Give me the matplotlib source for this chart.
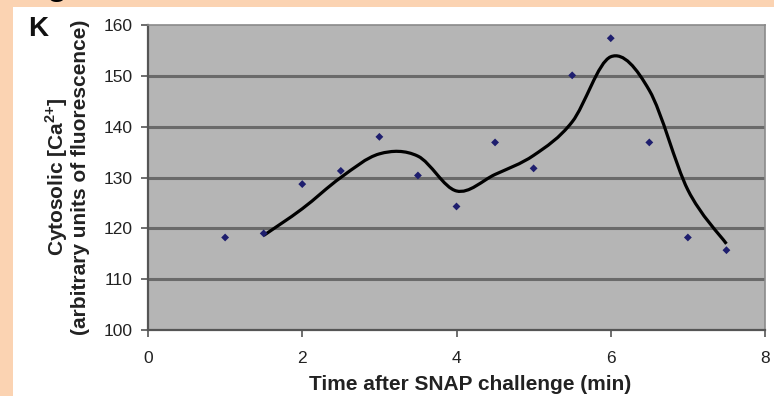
import numpy as np
import matplotlib
matplotlib.use("Agg")
import matplotlib.pyplot as plt
from matplotlib.path import Path
from matplotlib.patches import PathPatch, Rectangle

# Data
time_min = [1.0, 1.5, 2.0, 2.5, 3.0, 3.5, 4.0, 4.5, 5.0, 5.5, 6.0, 6.5, 7.0, 7.5]
cytosolic_ca = [118.2, 119.0, 128.7, 131.3, 138.0, 130.4, 124.3, 136.9, 131.8, 150.1, 157.4, 136.9, 118.2, 115.7]
x_ticks = [0, 2, 4, 6, 8]
y_ticks = [100, 110, 120, 130, 140, 150, 160]

plt.rcParams['font.family'] = ['Liberation Sans', 'DejaVu Sans']
plt.rcParams['mathtext.fontset'] = 'custom'
plt.rcParams['mathtext.rm'] = 'Liberation Sans'
plt.rcParams['mathtext.bf'] = 'Liberation Sans:bold'

fig = plt.figure(figsize=(7.74, 3.96), dpi=100)
fig.patch.set_facecolor('#FBD3B2')
# white panel
fig.patches.append(Rectangle((13/774, 0), 1, 1 - 7/396, transform=fig.transFigure,
                             facecolor='white', edgecolor='none', zorder=-5))
# cut-off glyph at the top
fig.text(57/774, 1 + 13/396, 'g', fontsize=24, fontweight='bold', ha='center', va='center', zorder=5)

ax = fig.add_axes([148/774, 1 - 330/396, (765-148)/774, (330-25)/396])
ax.set_zorder(2)
ax.set_facecolor('#B5B5B5')
ax.set_xlim(0, 8)
ax.set_ylim(100, 160)
ax.set_xticks(x_ticks)
ax.set_yticks(y_ticks)

for y in y_ticks[1:-1]:
    ax.axhline(y, color='#6A6A6A', lw=2.2, zorder=1)

# two-period moving average trendline, smoothed as Bezier curve
ma_x = time_min[1:]
ma_y = [(cytosolic_ca[i-1] + cytosolic_ca[i]) / 2 for i in range(1, len(cytosolic_ca))]
pts = list(zip(ma_x, ma_y))
verts = [pts[0]]
codes = [Path.MOVETO]
n = len(pts)
for i in range(n - 1):
    p0 = np.array(pts[i-1] if i > 0 else pts[i])
    p1 = np.array(pts[i])
    p2 = np.array(pts[i+1])
    p3 = np.array(pts[i+2] if i + 2 < n else pts[i+1])
    c1 = p1 + (p2 - p0) / 6
    c2 = p2 - (p3 - p1) / 6
    verts += [tuple(c1), tuple(c2), tuple(p2)]
    codes += [Path.CURVE4] * 3
ax.add_patch(PathPatch(Path(verts, codes), facecolor='none', edgecolor='black', lw=2.3, zorder=3))

ax.scatter(time_min, cytosolic_ca, marker='D', s=16, color='#1E1E6E', zorder=4, edgecolors='none')

for s in ['left', 'bottom']:
    ax.spines[s].set_color('#555555')
    ax.spines[s].set_linewidth(1.6)
for s in ['top', 'right']:
    ax.spines[s].set_color('#8A8A8A')
    ax.spines[s].set_linewidth(1.2)

ax.tick_params(axis='both', direction='out', length=5, width=1.2, color='#555555',
               labelsize=12.5, labelcolor='#222222')
ax.tick_params(axis='y', pad=6)
ax.tick_params(axis='x', pad=10)

fig.text(470/774, 1 - 390/396, 'Time after SNAP challenge (min)', fontsize=15, fontweight='bold',
         color='#222222', ha='center', va='baseline')
fig.text(57/774, 1 - 177/396, 'Cytosolic [Ca$^{\\mathbf{2{+}}}$]', rotation=90, fontsize=15,
         fontweight='bold', color='#222222', ha='center', va='center')
fig.text(81/774, 1 - 177/396, '(arbitrary units of fluorescence)', rotation=90, fontsize=15,
         fontweight='bold', color='#222222', ha='center', va='center')
fig.text(38/774, 1 - 29/396, 'K', fontsize=20, fontweight='bold', color='#111111', ha='center', va='center')

fig.savefig('out.png', dpi=100, facecolor=fig.get_facecolor())
